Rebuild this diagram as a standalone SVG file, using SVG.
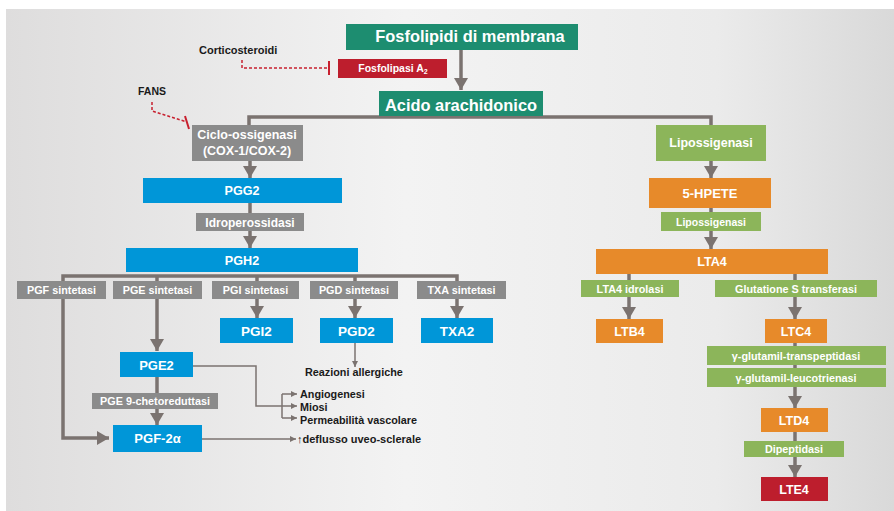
<svg xmlns="http://www.w3.org/2000/svg" width="894" height="511" viewBox="0 0 894 511">
<defs>
<linearGradient id="bg" x1="0" y1="0" x2="1" y2="0">
<stop offset="0" stop-color="#dedddd"/>
<stop offset="0.45" stop-color="#f3f3f3"/>
<stop offset="0.8" stop-color="#ebebeb"/>
<stop offset="1" stop-color="#d9d9d9"/>
</linearGradient>
<marker id="ah" viewBox="0 0 12 14" refX="12" refY="7" markerWidth="12" markerHeight="14" markerUnits="userSpaceOnUse" orient="auto">
<path d="M0,0 L12,7 L0,14 z" fill="#7b7370"/>
</marker>
<marker id="ahs" viewBox="0 0 6 6" refX="6" refY="3" markerWidth="6" markerHeight="6" markerUnits="userSpaceOnUse" orient="auto">
<path d="M0,0 L6,3 L0,6 z" fill="#7b7370"/>
</marker>
<style>
.tl{fill:none;stroke:#7b7370;stroke-width:3.5}
.tn{fill:none;stroke:#7b7370;stroke-width:1.5}
.rd{fill:none;stroke:#c8202f;stroke-width:1.5;stroke-dasharray:3 2}
.teal{fill:#1d8d70}
.blue{fill:#0096d8}
.green{fill:#8cb55a}
.orange{fill:#e78a2a}
.red{fill:#bd1e2d}
.grey{fill:#8b8b8b}
text{font-family:"Liberation Sans",Arial,sans-serif;font-weight:bold}
.w{fill:#ffffff;text-anchor:middle}
.k{fill:#1a1a1a}
.s{font-size:10.8px}
</style>
</defs>
<rect x="0" y="0" width="894" height="511" fill="#ffffff"/>
<rect x="6" y="9" width="888" height="502" fill="url(#bg)"/>

<g id="connectors">
<line class="tl" x1="461" y1="50" x2="461" y2="90" marker-end="url(#ah)"/>
<polyline class="tl" points="249,125 249,117 711,117 711,125"/>
<line class="tl" x1="250" y1="161" x2="250" y2="178" marker-end="url(#ah)"/>
<line class="tl" x1="250" y1="203" x2="250" y2="213"/>
<line class="tl" x1="250" y1="231" x2="250" y2="248" marker-end="url(#ah)"/>
<polyline class="tl" points="63,281 63,276 457,276 457,281"/>
<line class="tl" x1="157" y1="276" x2="157" y2="281"/>
<line class="tl" x1="257" y1="276" x2="257" y2="281"/>
<line class="tl" x1="355" y1="276" x2="355" y2="281"/>
<polyline class="tl" points="63,299 63,438 109,438" marker-end="url(#ah)"/>
<line class="tl" x1="157" y1="299" x2="157" y2="351" marker-end="url(#ah)"/>
<line class="tl" x1="257" y1="299" x2="257" y2="318" marker-end="url(#ah)"/>
<line class="tl" x1="355" y1="299" x2="355" y2="318" marker-end="url(#ah)"/>
<line class="tl" x1="457" y1="299" x2="457" y2="318" marker-end="url(#ah)"/>
<line class="tn" x1="355" y1="343" x2="355" y2="367" marker-end="url(#ahs)"/>
<polyline class="tn" points="193,366 256,366 256,406 282,406"/>
<line class="tn" x1="282" y1="394" x2="282" y2="418"/>
<line class="tn" x1="282" y1="394" x2="297" y2="394" marker-end="url(#ahs)"/>
<line class="tn" x1="282" y1="406" x2="297" y2="406" marker-end="url(#ahs)"/>
<line class="tn" x1="282" y1="418" x2="297" y2="418" marker-end="url(#ahs)"/>
<line class="tl" x1="157" y1="377" x2="157" y2="393"/>
<line class="tl" x1="157" y1="409" x2="157" y2="425" marker-end="url(#ah)"/>
<line class="tn" x1="202" y1="439" x2="296" y2="439" marker-end="url(#ahs)"/>
<line class="tl" x1="711" y1="161" x2="711" y2="178" marker-end="url(#ah)"/>
<line class="tl" x1="711" y1="208" x2="711" y2="212"/>
<line class="tl" x1="711" y1="231" x2="711" y2="249" marker-end="url(#ah)"/>
<line class="tl" x1="629" y1="274" x2="629" y2="280"/>
<line class="tl" x1="629" y1="297" x2="629" y2="319" marker-end="url(#ah)"/>
<line class="tl" x1="795" y1="274" x2="795" y2="280"/>
<line class="tl" x1="795" y1="297" x2="795" y2="319" marker-end="url(#ah)"/>
<line class="tl" x1="795" y1="343" x2="795" y2="346"/>
<line class="tl" x1="795" y1="365" x2="795" y2="368"/>
<line class="tl" x1="795" y1="387" x2="795" y2="408" marker-end="url(#ah)"/>
<line class="tl" x1="795" y1="432" x2="795" y2="441"/>
<line class="tl" x1="795" y1="457" x2="795" y2="477" marker-end="url(#ah)"/>
<polyline class="rd" points="242,60 242,68 329,68"/>
<line x1="329" y1="61" x2="329" y2="75" stroke="#c8202f" stroke-width="2"/>
<polyline class="rd" points="152,102 152,111 187,122"/>
<line x1="185" y1="116" x2="189" y2="129" stroke="#c8202f" stroke-width="2"/>
</g>

<g id="corticosteroidi"><text class="k" x="199" y="54" font-size="11">Corticosteroidi</text></g>
<g id="fans"><text class="k" x="138" y="95" font-size="10.5">FANS</text></g>

<g id="fosfolipidi"><rect class="teal" x="346" y="24" width="232" height="26"/><text class="w" x="470" y="42" font-size="16.4">Fosfolipidi di membrana</text></g>
<g id="fosfolipasi"><rect class="red" x="338" y="59" width="109" height="19"/><text class="w" x="393" y="72" font-size="10.5">Fosfolipasi A<tspan font-size="7" dy="2">2</tspan></text></g>
<g id="acido"><rect class="teal" x="379" y="91" width="164" height="25"/><text class="w" x="461" y="111" font-size="16.4">Acido arachidonico</text></g>

<g id="ciclo"><rect class="grey" x="192" y="125" width="111" height="36"/><text class="w" x="247" y="139" font-size="12.5">Ciclo-ossigenasi</text><text class="w" x="247" y="155" font-size="12.5">(COX-1/COX-2)</text></g>
<g id="pgg2"><rect class="blue" x="143" y="178" width="199" height="25"/><text class="w" x="242" y="195" font-size="12.6">PGG2</text></g>
<g id="idroperossidasi"><rect class="grey" x="196" y="213" width="108" height="18"/><text class="w" x="250" y="226.5" font-size="12">Idroperossidasi</text></g>
<g id="pgh2"><rect class="blue" x="126" y="248" width="232" height="24"/><text class="w" x="242" y="265" font-size="12.6">PGH2</text></g>

<g id="pgf-sint"><rect class="grey" x="17" y="281" width="89" height="18"/><text class="w s" x="61.5" y="294">PGF sintetasi</text></g>
<g id="pge-sint"><rect class="grey" x="113" y="281" width="89" height="18"/><text class="w s" x="157.5" y="294">PGE sintetasi</text></g>
<g id="pgi-sint"><rect class="grey" x="212" y="281" width="87" height="18"/><text class="w s" x="255.5" y="294">PGI sintetasi</text></g>
<g id="pgd-sint"><rect class="grey" x="310" y="281" width="88" height="18"/><text class="w s" x="354" y="294">PGD sintetasi</text></g>
<g id="txa-sint"><rect class="grey" x="417" y="281" width="89" height="18"/><text class="w s" x="461.5" y="294">TXA sintetasi</text></g>

<g id="pgi2"><rect class="blue" x="220" y="318" width="73" height="25"/><text class="w" x="256.5" y="336" font-size="13.5">PGI2</text></g>
<g id="pgd2"><rect class="blue" x="320" y="318" width="73" height="25"/><text class="w" x="356.5" y="336" font-size="13.5">PGD2</text></g>
<g id="txa2"><rect class="blue" x="421" y="318" width="72" height="25"/><text class="w" x="457" y="336" font-size="13.5">TXA2</text></g>
<g id="reazioni"><text class="k s" x="305" y="376">Reazioni allergiche</text></g>

<g id="pge2"><rect class="blue" x="120" y="352" width="73" height="25"/><text class="w" x="156.5" y="369.5" font-size="13">PGE2</text></g>
<g id="pge9"><rect class="grey" x="92" y="393" width="126" height="16"/><text class="w s" x="155" y="405">PGE 9-chetoreduttasi</text></g>
<g id="pgf2a"><rect class="blue" x="113" y="425" width="89" height="27"/><text class="w" x="157.5" y="443" font-size="13">PGF-2α</text></g>
<g id="effetti"><text class="k s" x="300" y="398">Angiogenesi</text><text class="k s" x="300" y="411">Miosi</text><text class="k s" x="300" y="424">Permeabilità vascolare</text><text class="k" x="297" y="443" font-size="11">↑deflusso uveo-sclerale</text></g>

<g id="lipossigenasi"><rect class="green" x="656" y="125" width="110" height="36"/><text class="w" x="711" y="147" font-size="12.5">Lipossigenasi</text></g>
<g id="hpete"><rect class="orange" x="649" y="178" width="122" height="30"/><text class="w" x="710" y="198" font-size="13">5-HPETE</text></g>
<g id="lipossigenasi2"><rect class="green" x="661" y="212" width="100" height="19"/><text class="w" x="711" y="225.5" font-size="10.5">Lipossigenasi</text></g>
<g id="lta4"><rect class="orange" x="596" y="249" width="232" height="25"/><text class="w" x="712" y="266" font-size="12.6">LTA4</text></g>
<g id="lta4-idrolasi"><rect class="green" x="581" y="280" width="98" height="17"/><text class="w s" x="630" y="292.5">LTA4 idrolasi</text></g>
<g id="glutatione"><rect class="green" x="715" y="280" width="162" height="17"/><text class="w s" x="796" y="292.5">Glutatione S transferasi</text></g>
<g id="ltb4"><rect class="orange" x="596" y="319" width="67" height="24"/><text class="w" x="629.5" y="336" font-size="12.5">LTB4</text></g>
<g id="ltc4"><rect class="orange" x="765" y="319" width="62" height="24"/><text class="w" x="796" y="336" font-size="12.5">LTC4</text></g>
<g id="transpeptidasi"><rect class="green" x="707" y="346" width="179" height="19"/><text class="w s" x="796" y="359.5">γ-glutamil-transpeptidasi</text></g>
<g id="leucotrienasi"><rect class="green" x="707" y="368" width="179" height="19"/><text class="w s" x="796" y="381.5">γ-glutamil-leucotrienasi</text></g>
<g id="ltd4"><rect class="orange" x="761" y="408" width="67" height="24"/><text class="w" x="794" y="425" font-size="12.5">LTD4</text></g>
<g id="dipeptidasi"><rect class="green" x="744" y="441" width="100" height="16"/><text class="w s" x="794" y="453">Dipeptidasi</text></g>
<g id="lte4"><rect class="red" x="761" y="477" width="67" height="24"/><text class="w" x="794" y="494" font-size="12.5">LTE4</text></g>
</svg>
